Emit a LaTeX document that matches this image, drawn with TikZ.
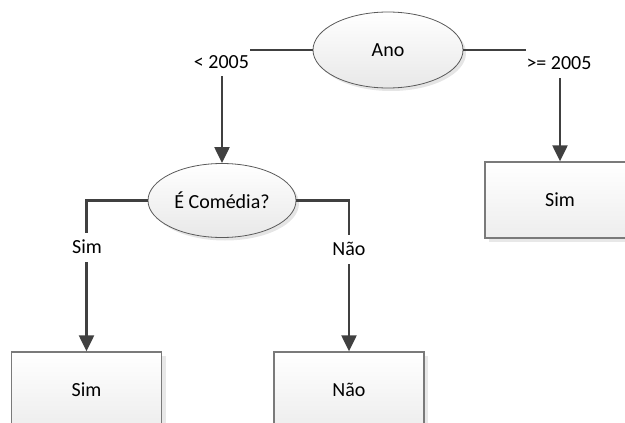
\documentclass[tikz,border=0pt]{standalone}
\usepackage{fontspec}
\setmainfont{Carlito}
\usetikzlibrary{arrows.meta,shadows,shapes.geometric}

\definecolor{linegray}{HTML}{404040}
\definecolor{edgegray}{HTML}{5A5A5A}
\definecolor{boxgray}{HTML}{7A7A7A}

\tikzset{
  diagram/.style={x=1pt,y=-1pt,font=\fontsize{20}{24}\selectfont},
  decision/.style={ellipse, draw=edgegray, line width=0.8pt,
    top color=white, bottom color=black!9,
    drop shadow={shadow xshift=3pt, shadow yshift=-3pt, fill=black!10, opacity=1},
    inner sep=0pt},
  leaf/.style={rectangle, draw=boxgray, line width=1.3pt,
    top color=white, bottom color=black!7,
    minimum width=150pt, minimum height=76pt, inner sep=0pt,
    drop shadow={shadow xshift=4pt, shadow yshift=-4pt, fill=black!9, opacity=1}},
  link/.style={draw=linegray, line width=2.2pt,
    -{Triangle[width=15pt,length=16pt]}},
  tag/.style={fill=white, inner xsep=1pt, inner ysep=0pt}
}

\begin{document}
\begin{tikzpicture}[diagram]
  \useasboundingbox (0,0) rectangle (625,423);
  \clip (0,0) rectangle (625,423);

  % decision nodes
  \node[decision, minimum width=150pt, minimum height=76pt] (ano) at (388,50) {Ano};
  \node[decision, minimum width=148pt, minimum height=74pt] (comedia) at (222,200.5) {É Comédia?};

  % outcome boxes (the lower ones run past the bottom edge)
  \node[leaf] (simtop) at (560,200) {Sim};
  \node[leaf] (simleft) at (86.5,390) {Sim};
  \node[leaf] (naoright) at (349,390) {Não};

  % connectors
  \draw[link] (ano.west) -| (comedia.north);
  \draw[link] (ano.east) -| (simtop.north);
  \draw[link] (comedia.west) -| (simleft.north);
  \draw[link] (comedia.east) -| (naoright.north);

  % branch labels
  \node[tag, minimum height=28pt] (lt2005) at (221.5,62) {< 2005};
  \node[tag, minimum height=30pt] (ge2005) at (559,63) {>= 2005};
  \node[tag, minimum height=29pt] (simlabel) at (87,247) {Sim};
  \node[tag, minimum height=29pt] (naolabel) at (349,249) {Não};
\end{tikzpicture}
\end{document}
